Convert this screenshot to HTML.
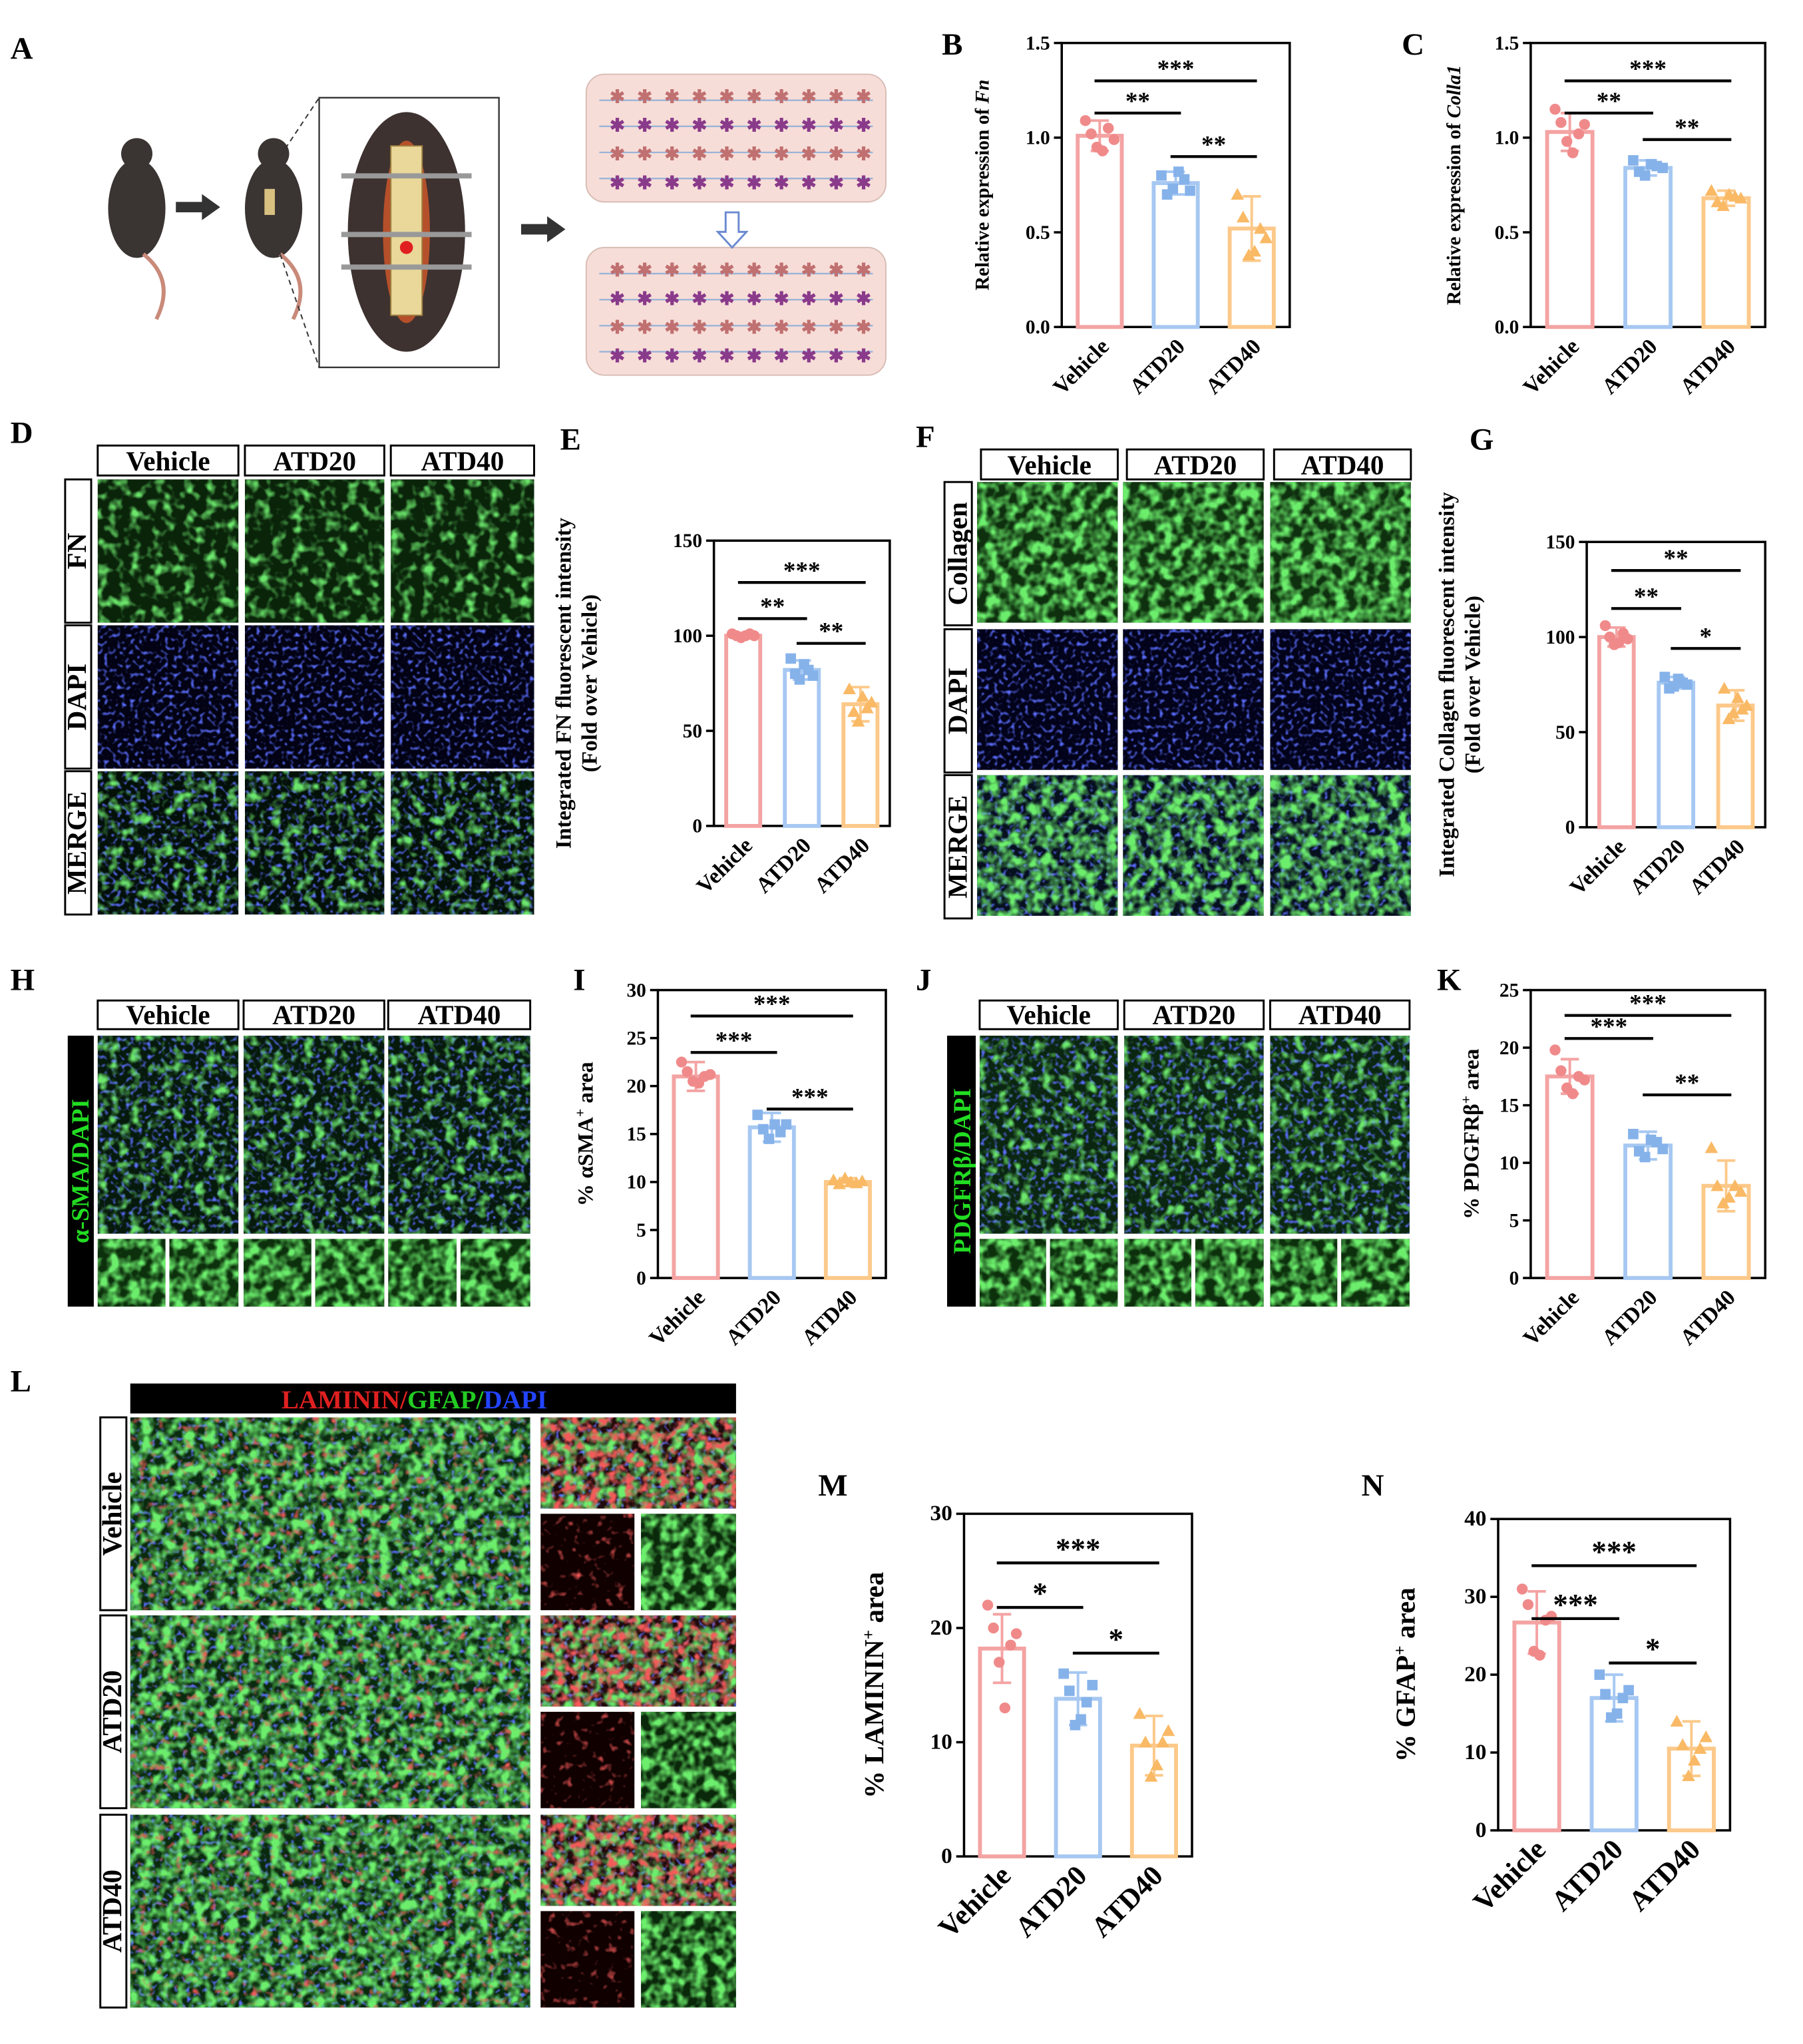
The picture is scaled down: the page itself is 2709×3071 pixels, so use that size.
<!DOCTYPE html>
<html><head><meta charset="utf-8"><style>
html,body{margin:0;padding:0;background:#fff;}
svg{display:block;}
text{font-family:"Liberation Serif",serif;font-weight:bold;}
</style></head><body>
<svg id="fig" xmlns="http://www.w3.org/2000/svg" width="2709" height="3071" viewBox="0 0 1384 1569" preserveAspectRatio="none">
<defs>
<filter id="fg" x="0" y="0" width="1" height="1"><feTurbulence type="fractalNoise" baseFrequency="0.12" numOctaves="2" seed="3"/><feColorMatrix values="0 0 0 0 0.15  0 0 0 0 0.8  0 0 0 0 0.15  3.2 0 0 0 -1.55"/><feComposite in2="SourceGraphic" operator="in"/></filter>
<filter id="fgs" x="0" y="0" width="1" height="1"><feTurbulence type="fractalNoise" baseFrequency="0.12" numOctaves="2" seed="9"/><feColorMatrix values="0 0 0 0 0.15  0 0 0 0 0.85  0 0 0 0 0.15  3 0 0 0 -1.1"/><feComposite in2="SourceGraphic" operator="in"/></filter>
<filter id="fb" x="0" y="0" width="1" height="1"><feTurbulence type="fractalNoise" baseFrequency="0.3" numOctaves="1" seed="5"/><feColorMatrix values="0 0 0 0 0.1  0 0 0 0 0.15  0 0 0 0 0.95  4 0 0 0 -2.1"/><feComposite in2="SourceGraphic" operator="in"/></filter>
<filter id="fr" x="0" y="0" width="1" height="1"><feTurbulence type="fractalNoise" baseFrequency="0.15" numOctaves="2" seed="11"/><feColorMatrix values="0 0 0 0 0.9  0 0 0 0 0.1  0 0 0 0 0.1  3.2 0 0 0 -1.4"/><feComposite in2="SourceGraphic" operator="in"/></filter>
<filter id="frs" x="0" y="0" width="1" height="1"><feTurbulence type="fractalNoise" baseFrequency="0.15" numOctaves="2" seed="11"/><feColorMatrix values="0 0 0 0 0.9  0 0 0 0 0.1  0 0 0 0 0.1  3.2 0 0 0 -1.9"/><feComposite in2="SourceGraphic" operator="in"/></filter>
</defs>
<g id="root"></g>
</svg>
<script>
// ---------- chart data ----------
const catsAll = ["Vehicle","ATD20","ATD40"];
const bMeans=[1.01,0.76,0.52], bSd=[0.08,0.06,0.17], bPts=[[1.09,1.02,0.95,0.93,1.05,0.99],[0.80,0.70,0.73,0.82,0.78,0.72],[0.70,0.58,0.38,0.40,0.52,0.47]];
const cMeans=[1.03,0.84,0.68], cSd=[0.10,0.04,0.04], cSdPts=[[1.15,1.08,0.98,0.92,1.02,1.07],[0.88,0.82,0.80,0.86,0.85,0.84],[0.72,0.66,0.64,0.70,0.69,0.68]];
const eMeans=[100,82,64], eSd=[1.5,5,9], ePts=[[101,100,99,100,101,100],[88,80,77,85,82,79],[72,60,55,68,62,65]];
const gMeans=[100,76,64], gSd=[5,3,8], gPts=[[106,100,96,97,102,99],[79,73,74,78,76,75],[73,57,60,68,62,64]];
const iMeans=[21,15.7,10], iSd=[1.5,1.5,0.4], iPts=[[22.5,21.5,20.5,20.3,21,21.2],[17,15.5,14.5,16,15.2,16],[10.2,9.8,10.4,10,9.9,10.1]];
const kMeans=[17.5,11.5,8], kSd=[1.5,1.2,2.2], kPts=[[19.8,18,16.5,16,17.5,17.2],[12.5,11,10.5,12,11.8,11.2],[11.3,8,6.5,7,8,7.5]];
const mMeans=[18.2,13.8,9.7], mSd=[3,2.3,2.6], mPts=[[22,20,17,13,18.5,19.5],[16,14.5,11.5,12,13.5,15],[12.5,10,7,8,10,11]];
const nMeans=[26.7,17,10.5], nSd=[4,3,3.5], nPts=[[31,29,23,22.5,27,27.5],[20,17.5,14.5,15,17,18],[14,11,7,9,10.5,12]];

const NS="http://www.w3.org/2000/svg";
const root=document.getElementById('root');
function el(tag,attrs,parent,txt){const e=document.createElementNS(NS,tag);for(const k in attrs)e.setAttribute(k,attrs[k]);if(txt!==undefined)e.textContent=txt;(parent||root).appendChild(e);return e;}
const stroke=["#f4a3a3","#a6c8f2","#fcc98a"], ptc=["#f08a8a","#86b2ea","#f9b965"];

function chart(name,o){
  const g=el('g',{},root);
  
  
  const y=v=>o.y0-(v/o.ymax)*(o.y0-o.y1);
  const step=(o.x1-o.x0)/3, bw=step*0.58;
  const xc=i=>o.x0+(i+0.5)*step;
  const fr=el('rect',{x:o.x0,y:o.y1,width:o.x1-o.x0,height:o.y0-o.y1,fill:'none',stroke:'#000','stroke-width':1.8},g);
  
  o.ticks.forEach((t,k)=>{
    el('line',{x1:o.x0-6,x2:o.x0,y1:y(t),y2:y(t),stroke:'#000','stroke-width':1.8},g);
    const tl=el('text',{x:o.x0-9,y:y(t)+5,'text-anchor':'end','font-size':o.tickSize||15},g,o.tickLabels[k]);
    
  });
  const yl=el('text',{transform:`translate(${o.x0-o.ylOff},${(o.y0+o.y1)/2}) rotate(-90)`,'text-anchor':'middle','font-size':o.ylSize||15},g);
  
  o.ylabel.forEach((ln,k)=>{const ts=el('tspan',{x:0,dy:k?20:0},yl);ts.innerHTML=ln;});
  o.means.forEach((m,i)=>{
    const b=el('rect',{x:xc(i)-bw/2,y:y(m),width:bw,height:o.y0-y(m),fill:'none',stroke:stroke[i],'stroke-width':3},g);
    
    const hi=y(m+o.sd[i]),lo=y(m-o.sd[i]);
    el('line',{x1:xc(i),x2:xc(i),y1:hi,y2:lo,stroke:stroke[i],'stroke-width':2},g);
    el('line',{x1:xc(i)-7,x2:xc(i)+7,y1:hi,y2:hi,stroke:stroke[i],'stroke-width':2},g);
    el('line',{x1:xc(i)-7,x2:xc(i)+7,y1:lo,y2:lo,stroke:stroke[i],'stroke-width':2},g);
    o.pts[i].forEach((p,j)=>{
      const px=xc(i)+(j-2.5)*bw*0.13, py=y(p); let s;
      if(i==0) s=el('circle',{cx:px,cy:py,r:4.2,fill:ptc[0]},g);
      else if(i==1) s=el('rect',{x:px-4,y:py-4,width:8,height:8,fill:ptc[1]},g);
      else s=el('polygon',{points:`${px},${py-5} ${px-5},${py+4} ${px+5},${py+4}`,fill:ptc[2]},g);
      
    });
    const cl=el('text',{transform:`translate(${xc(i)+8},${o.y0+16}) rotate(-45)`,'text-anchor':'end','font-size':o.catSize||17},g,catsAll[i]);
    
  });
  o.sig.forEach(s=>{
    const yy=y(s[2]);
    const l=el('line',{x1:xc(s[0])-4,x2:xc(s[1])+4,y1:yy,y2:yy,stroke:'#000','stroke-width':2.2},g);
    
    const t=el('text',{x:(xc(s[0])+xc(s[1]))/2,y:yy-3,'text-anchor':'middle','font-size':o.sigSize||19},g,s[3]);
    
  });
}
function lab(t,x,y){const e=el('text',{x:x,y:y,'font-size':24},root,t);}

chart('chart-b',{x0:815,x1:990,y0:251,y1:33,ymax:1.5,ticks:[0,0.5,1,1.5],tickLabels:["0.0","0.5","1.0","1.5"],means:bMeans,sd:bSd,pts:bPts,ylOff:56,ylabel:["Relative expression of <tspan font-style='italic'>Fn</tspan>"],sig:[[0,1,1.13,"**"],[0,2,1.30,"***"],[1,2,0.90,"**"]]});
chart('chart-c',{x0:1175,x1:1355,y0:251,y1:33,ymax:1.5,ticks:[0,0.5,1,1.5],tickLabels:["0.0","0.5","1.0","1.5"],means:cMeans,sd:cSd,pts:cSdPts,ylOff:54,ylabel:["Relative expression of <tspan font-style='italic'>Colla1</tspan>"],sig:[[0,1,1.13,"**"],[0,2,1.30,"***"],[1,2,0.99,"**"]]});
chart('chart-e',{x0:548,x1:683,y0:634,y1:415,ymax:150,ticks:[0,50,100,150],tickLabels:["0","50","100","150"],means:eMeans,sd:eSd,pts:ePts,ylOff:110,ylSize:17,ylabel:["Integrated FN fluorescent intensity","(Fold over Vehicle)"],sig:[[0,1,109,"**"],[0,2,128,"***"],[1,2,96,"**"]]});
chart('chart-g',{x0:1218,x1:1355,y0:635,y1:416,ymax:150,ticks:[0,50,100,150],tickLabels:["0","50","100","150"],means:gMeans,sd:gSd,pts:gPts,ylOff:102,ylSize:17,ylabel:["Integrated Collagen fluorescent intensity","(Fold over Vehicle)"],sig:[[0,1,115,"**"],[0,2,135,"**"],[1,2,94,"*"]]});
chart('chart-i',{x0:505,x1:680,y0:981,y1:760,ymax:30,ticks:[0,5,10,15,20,25,30],tickLabels:["0","5","10","15","20","25","30"],means:iMeans,sd:iSd,pts:iPts,ylOff:50,ylSize:17,ylabel:["% αSMA<tspan baseline-shift='super' font-size='11'>+</tspan> area"],sig:[[0,1,23.5,"***"],[0,2,27.3,"***"],[1,2,17.6,"***"]]});
chart('chart-k',{x0:1175,x1:1355,y0:981,y1:760,ymax:25,ticks:[0,5,10,15,20,25],tickLabels:["0","5","10","15","20","25"],means:kMeans,sd:kSd,pts:kPts,ylOff:40,ylSize:17,ylabel:["% PDGFRβ<tspan baseline-shift='super' font-size='11'>+</tspan> area"],sig:[[0,1,20.8,"***"],[0,2,22.8,"***"],[1,2,15.9,"**"]]});
chart('chart-m',{x0:740,x1:915,y0:1425,y1:1162,ymax:30,ticks:[0,10,20,30],tickLabels:["0","10","20","30"],means:mMeans,sd:mSd,pts:mPts,ylOff:62,ylSize:21,tickSize:17,catSize:22,sigSize:23,ylabel:["% LAMININ<tspan baseline-shift='super' font-size='13'>+</tspan> area"],sig:[[0,1,21.8,"*"],[0,2,25.7,"***"],[1,2,17.8,"*"]]});
chart('chart-n',{x0:1150,x1:1328,y0:1405,y1:1166,ymax:40,ticks:[0,10,20,30,40],tickLabels:["0","10","20","30","40"],means:nMeans,sd:nSd,pts:nPts,ylOff:64,ylSize:21,tickSize:17,catSize:22,sigSize:23,ylabel:["% GFAP<tspan baseline-shift='super' font-size='13'>+</tspan> area"],sig:[[0,1,27.2,"***"],[0,2,34,"***"],[1,2,21.5,"*"]]});

// ---------- micrographs ----------
function img(name,x,y,w,h,layers,base){
  const g=el('g',{},root);
  
  el('rect',{x:x,y:y,width:w,height:h,fill:base||'#000'},g);
  layers.forEach(f=>el('rect',{x:x,y:y,width:w,height:h,fill:'#000',filter:'url(#'+f+')'},g));
}
function header(name,x,y,w,h,t,fs){const r=el('rect',{x:x,y:y,width:w,height:h,fill:'#fff',stroke:'#000','stroke-width':1.5});el('text',{x:x+w/2,y:y+h-4,'text-anchor':'middle','font-size':fs||21},root,t);}
function side(name,x,y,w,h,t){const r=el('rect',{x:x,y:y,width:w,height:h,fill:'#fff',stroke:'#000','stroke-width':1.5});el('text',{transform:`translate(${x+w-4},${y+h/2}) rotate(-90)`,'text-anchor':'middle','font-size':21},root,t);}
const grpLab=["Vehicle","ATD20","ATD40"];
// D
lab('D',8,340);
[[75,183],[188,295],[300,410]].forEach((c,i)=>header('header-d-'+i,c[0],342,c[1]-c[0],23,grpLab[i]));
[["FN",368,["fg"],"#0a240a"],["DAPI",480,["fb"],"#020214"],["MERGE",592,["fb","fg"],"#031008"]].forEach(r=>{side('row-label',50,r[1],20,110,r[0]);[[75,183],[188,295],[300,410]].forEach(c=>img('micrograph-d',c[0],r[1],c[1]-c[0],110,r[2],r[3]));});
// F
lab('F',703,343);
[[750,858],[862,970],[975,1083]].forEach((c,i)=>header('header-f-'+i,c[0]+3,345,c[1]-c[0]-3,23,grpLab[i]));
[["Collagen",370,["fgs"],"#0e300e"],["DAPI",483,["fb"],"#02021a"],["MERGE",595,["fb","fgs"],"#06101e"]].forEach(r=>{side('row-label',725,r[1],21,110,r[0]);[[750,858],[862,970],[975,1083]].forEach(c=>img('micrograph-f',c[0],r[1],c[1]-c[0],108,r[2],r[3]));});
// H / J
lab('H',8,760);lab('J',703,760);
[[75,183],[187,295],[298,407]].forEach((c,i)=>{header('header-h-'+i,c[0],768,c[1]-c[0],22,grpLab[i]);img('micrograph-h',c[0],795,c[1]-c[0],152,['fb','fg'],'#061a0c');img('inset-h',c[0],951,(c[1]-c[0])/2-2,52,['fgs'],'#0c300c');img('inset-h',c[0]+(c[1]-c[0])/2+1,951,(c[1]-c[0])/2-1,52,['fgs'],'#0c300c');});
el('rect',{x:52,y:795,width:20,height:208,fill:'#000'});
el('text',{transform:'translate(68,899) rotate(-90)','text-anchor':'middle','font-size':19,fill:'#22dd22'},root,'α-SMA/DAPI');
[[752,858],[863,970],[975,1082]].forEach((c,i)=>{header('header-j-'+i,c[0],768,c[1]-c[0],22,grpLab[i]);img('micrograph-j',c[0],795,c[1]-c[0],152,['fb','fg'],'#0a2610');img('inset-j',c[0],951,(c[1]-c[0])/2-2,52,['fgs'],'#0c300c');img('inset-j',c[0]+(c[1]-c[0])/2+1,951,(c[1]-c[0])/2-1,52,['fgs'],'#0c300c');});
el('rect',{x:727,y:795,width:22,height:208,fill:'#000'});
el('text',{transform:'translate(745,899) rotate(-90)','text-anchor':'middle','font-size':19,fill:'#22dd22'},root,'PDGFRβ/DAPI');
// L
lab('L',8,1068);
const lb=el('rect',{x:100,y:1062,width:465,height:23,fill:'#000'});
const lt=el('text',{x:318,y:1081,'text-anchor':'middle','font-size':20,'font-weight':'normal'},root);
lt.innerHTML="<tspan fill='#e02020'>LAMININ/</tspan><tspan fill='#22cc22'>GFAP/</tspan><tspan fill='#2244ff'>DAPI</tspan>";
[[1088,"Vehicle"],[1240,"ATD20"],[1393,"ATD40"]].forEach(r=>{
  side('row-label',77,r[0],20,148,r[1]);
  img('micrograph-l',100,r[0],307,148,['fb','fgs','frs'],'#0a2a0e');
  img('inset-l-merge',415,r[0],150,70,['fb','fgs','fr'],'#200a0a');
  img('inset-l-red',415,r[0]+74,72,74,['frs'],'#100000');
  img('inset-l-green',492,r[0]+74,73,74,['fgs'],'#0a280a');
});
// A
lab('A',8,45);lab('B',723,42);lab('C',1076,42);lab('E',430,345);lab('G',1128,345);lab('I',440,760);lab('K',1103,760);
lab('M',628,1148);lab('N',1045,1148);
const gA=el('g',{});
[[105,160],[210,160]].forEach(p=>{el('ellipse',{cx:p[0],cy:p[1],rx:22,ry:38,fill:'#3a3432'},gA);el('circle',{cx:p[0],cy:p[1]-42,r:12,fill:'#3a3432'},gA);el('path',{d:`M${p[0]+5},${p[1]+35} q25,20 10,50`,stroke:'#c98a7a','stroke-width':3,fill:'none'},gA);});
el('rect',{x:203,y:145,width:8,height:20,fill:'#d8c080'},gA);
el('path',{d:'M135,155 h20 v-6 l14,10 l-14,10 v-6 h-20z',fill:'#333'},gA);
el('path',{d:'M400,172 h20 v-6 l14,10 l-14,10 v-6 h-20z',fill:'#333'},gA);
el('rect',{x:245,y:75,width:138,height:207,fill:'#fff',stroke:'#333','stroke-width':1.2},gA);
el('line',{x1:215,y1:120,x2:245,y2:75,stroke:'#333','stroke-dasharray':'4,3'},gA);
el('line',{x1:215,y1:195,x2:245,y2:282,stroke:'#333','stroke-dasharray':'4,3'},gA);
el('ellipse',{cx:312,cy:178,rx:45,ry:92,fill:'#3d3230'},gA);
el('ellipse',{cx:312,cy:178,rx:18,ry:70,fill:'#b5502a'},gA);
el('rect',{x:300,y:112,width:24,height:130,fill:'#e9d89a',stroke:'#a08040'},gA);
[135,180,205].forEach(yy=>el('line',{x1:262,x2:362,y1:yy,y2:yy,stroke:'#999','stroke-width':4},gA));
el('circle',{cx:312,cy:190,r:5,fill:'#e02020'},gA);
[[450,57],[450,190]].forEach(p=>{el('rect',{x:p[0],y:p[1],width:230,height:98,rx:14,fill:'#f7ddd8',stroke:'#d8bdb5'},gA);
  for(let k=0;k<4;k++)el('line',{x1:p[0]+10,x2:p[0]+220,y1:p[1]+20+k*20,y2:p[1]+20+k*20,stroke:'#9ab4d8','stroke-width':1.2},gA);
  for(let k=0;k<10;k++)for(let m=0;m<4;m++)el('text',{x:p[0]+18+k*21,y:p[1]+22+m*22,'font-size':14,fill:m%2?'#8a3a8a':'#c07070','font-weight':'normal'},gA,'✱');
});
el('path',{d:'M557,163 h10 v15 h6 l-11,12 l-11,-12 h6z',fill:'#fff',stroke:'#6a8ad0','stroke-width':1.5},gA);
</script>
</body></html>
